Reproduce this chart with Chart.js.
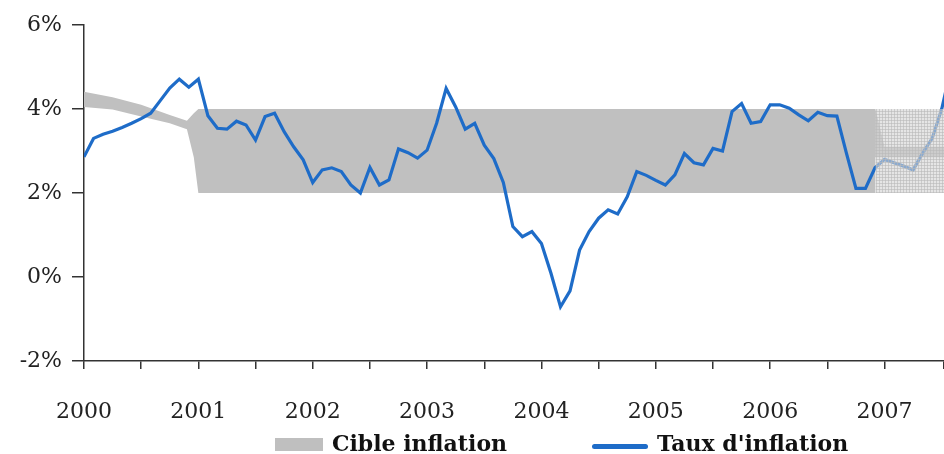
<!DOCTYPE html>
<html>
<head>
<meta charset="utf-8">
<script src="https://cdn.jsdelivr.net/npm/chart.js@4.4.0/dist/chart.umd.min.js"></script>
<style>
  body { margin: 0; background: #fff; }
  #wrap { position: relative; width: 944px; height: 454px; }
  .leg { position: absolute; font: bold 22px "DejaVu Serif", serif; line-height: 22px; color: #111; white-space: nowrap; }
  .swatch { position: absolute; }
</style>
</head>
<body>
<div id="wrap">
  <canvas id="chart"></canvas>
  <div class="swatch" style="left:275px;top:438px;width:48px;height:13px;background:#bfbfbf"></div>
  <div class="leg" style="left:332px;top:432px">Cible inflation</div>
  <div class="swatch" style="left:592px;top:444px;width:56px;height:5px;border-radius:3px;background:#1e6cc8"></div>
  <div class="leg" style="left:657px;top:432px">Taux d'inflation</div>
</div>
<script>
// monthly inflation, Jan 2000 -> Aug 2007 (last one runs off the right edge)
const startYear = 2000
const inflation = [
  2.86, 3.3, 3.4, 3.47, 3.56, 3.66, 3.77, 3.9, 4.2, 4.5, 4.71, 4.52,
  4.71, 3.84, 3.54, 3.52, 3.71, 3.62, 3.26, 3.82, 3.9, 3.46, 3.1, 2.79,
  2.25, 2.55, 2.6, 2.51, 2.19, 2.0, 2.61, 2.19, 2.31, 3.05, 2.96, 2.83,
  3.02, 3.66, 4.49, 4.05, 3.52, 3.66, 3.14, 2.82, 2.25, 1.2, 0.96, 1.08,
  0.8, 0.09, -0.71, -0.33, 0.64, 1.08, 1.4, 1.6, 1.5, 1.91, 2.51, 2.42,
  2.3, 2.19, 2.43, 2.94, 2.72, 2.67, 3.06, 3.0, 3.94, 4.13, 3.66, 3.7,
  4.1, 4.1, 4.02, 3.86, 3.72, 3.92, 3.84, 3.83, 2.95, 2.11, 2.11, 2.6,
  2.8, 2.72, 2.64, 2.55, 2.95, 3.3, 4.0, 5.0
]

// target band (cible)
const bandX     = [2000, 2000.25, 2000.5, 2000.75, 2000.9, 2000.96, 2001.0, 2006.92, 2006.92, 2007.0, 2007.6]
const bandUpper = [4.41, 4.28, 4.1, 3.86, 3.72, 3.9, 4.0, 4.0, 4.0, 3.1, 3.1]
const bandLower = [4.05, 3.99, 3.82, 3.66, 3.52, 2.85, 2.0, 2.0, 2.85, 2.85, 2.85]

// 2007 projected band (hatched)
const hatchX     = [2006.92, 2007.6]
const hatchUpper = [4, 4]
const hatchLower = [2, 2]

const yTicks = [-2, 0, 2, 4, 6]

const toPoints = (xs, ys) => xs.map((x, i) => ({ x: x, y: ys[i] }))

const makeHatch = () => {
    const c = document.createElement('canvas')
    c.width = 3
    c.height = 3
    const g = c.getContext('2d')
    g.fillStyle = 'rgba(212,212,212,0.6)'
    g.fillRect(0, 0, 3, 3)
    g.fillStyle = 'rgba(185,185,185,0.6)'
    g.fillRect(0, 0, 3, 1)
    g.fillRect(0, 0, 1, 3)
    return g.createPattern(c, 'repeat')
}

const lineData = inflation.map((v, i) => ({ x: startYear + i / 12, y: v }))
const axisColor = '#333'
const tickFont = { family: 'DejaVu Serif', size: 22 }

new Chart(document.querySelector('#chart'), {
    type: 'line',
    data: {
        datasets: [
            { data: toPoints(bandX, bandUpper), borderWidth: 0, pointRadius: 0, fill: false, order: 3 },
            { data: toPoints(bandX, bandLower), borderWidth: 0, pointRadius: 0, fill: '-1', backgroundColor: '#c0c0c0', order: 3 },
            { data: toPoints(hatchX, hatchUpper), borderWidth: 0, pointRadius: 0, fill: false, order: 0 },
            { data: toPoints(hatchX, hatchLower), borderWidth: 0, pointRadius: 0, fill: '-1', backgroundColor: makeHatch(), order: 0 },
            { label: "Taux d'inflation", data: lineData, borderColor: '#1e6cc8', borderWidth: 3.2, pointRadius: 0, tension: 0, fill: false, order: 1 }
        ]
    },
    options: {
        responsive: true,
        maintainAspectRatio: false,
        animation: false,
        layout: { padding: { top: 25, right: 0, left: 0, bottom: 0 } },
        plugins: { legend: { display: false }, tooltip: { enabled: false } },
        scales: {
            x: {
                type: 'linear',
                min: 2000,
                max: 2007.52,
                afterFit: (s) => { s.height = 93; s.paddingRight = 0; s.paddingLeft = 0 },
                border: { color: axisColor, width: 1.5 },
                grid: { drawOnChartArea: false, drawTicks: true, tickLength: 8, color: axisColor, lineWidth: 1.5 },
                ticks: {
                    stepSize: 0.5,
                    autoSkip: false,
                    maxRotation: 0,
                    padding: 30,
                    color: '#222',
                    font: tickFont,
                    callback: (v) => Number.isInteger(v) ? String(v) : ''
                }
            },
            y: {
                min: -2,
                max: 6,
                afterFit: (s) => { s.width = 84 },
                border: { color: axisColor, width: 1.5 },
                grid: { drawOnChartArea: false, drawTicks: true, tickLength: 12, color: axisColor, lineWidth: 1.5 },
                afterBuildTicks: (s) => { s.ticks = yTicks.map(v => ({ value: v })) },
                ticks: {
                    padding: 10,
                    color: '#222',
                    font: tickFont,
                    callback: (v) => v + '%'
                }
            }
        }
    }
})
</script>
</body>
</html>
